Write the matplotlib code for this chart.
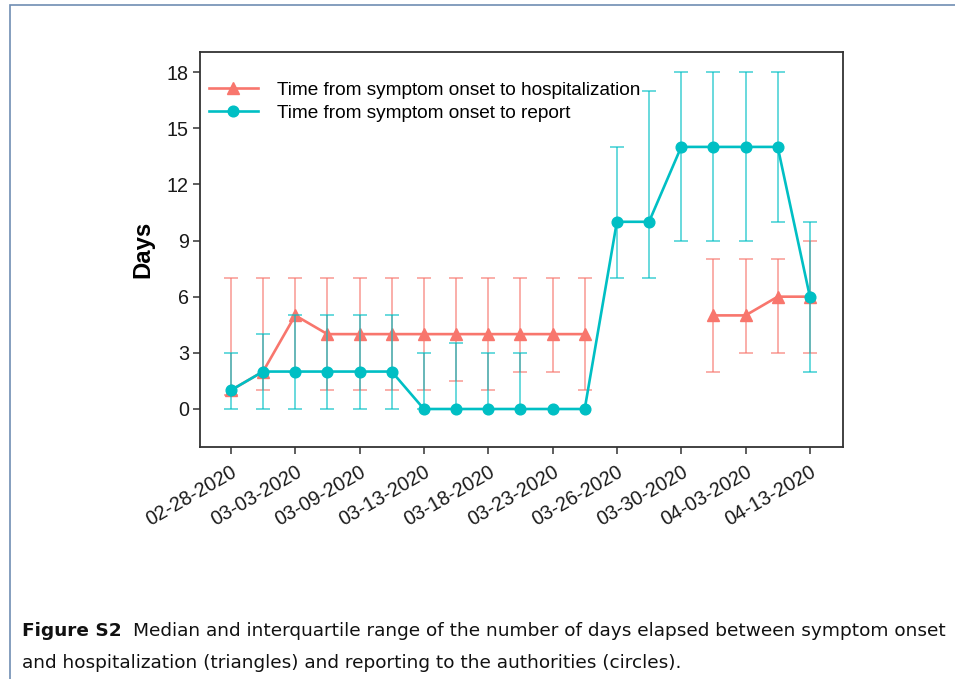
import numpy as np
import matplotlib
matplotlib.use('Agg')
import matplotlib.pyplot as plt
from matplotlib.patches import Rectangle

nan = np.nan

# one position every half step; only every other position gets a date label
tick_labels = ['02-28-2020', '03-03-2020', '03-09-2020', '03-13-2020', '03-18-2020',
               '03-23-2020', '03-26-2020', '03-30-2020', '04-03-2020', '04-13-2020']

hosp_median = [1, 2, 5, 4, 4, 4, 4, 4, 4, 4, 4, 4, nan, nan, nan, 5, 5, 6, 6]
hosp_q1 = [0.75, 1, 2, 1, 1, 1, 1, 1.5, 1, 2, 2, 1, nan, nan, nan, 2, 3, 3, 3]
hosp_q3 = [7, 7, 7, 7, 7, 7, 7, 7, 7, 7, 7, 7, nan, nan, nan, 8, 8, 8, 9]

report_median = [1, 2, 2, 2, 2, 2, 0, 0, 0, 0, 0, 0, 10, 10, 14, 14, 14, 14, 6]
report_q1 = [0, 0, 0, 0, 0, 0, 0, 0, 0, 0, nan, nan, 7, 7, 9, 9, 9, 10, 2]
report_q3 = [3, 4, 5, 5, 5, 5, 3, 3.5, 3, 3, nan, nan, 14, 17, 18, 18, 18, 18, 10]

caption_head = 'Figure S2'
caption_lines = ['Median and interquartile range of the number of days elapsed between symptom onset',
                 'and hospitalization (triangles) and reporting to the authorities (circles).']

plt.rcParams['font.family'] = ['Liberation Sans', 'DejaVu Sans']

W, H = 955, 679
fig = plt.figure(figsize=(W / 100, H / 100), dpi=100)
ax = fig.add_axes([200 / W, 1 - 447 / H, 643 / W, 395 / H])

RED = '#F8766D'
TEAL = '#00BFC4'
x = np.arange(len(report_median))


def draw_series(med, lo, hi, color, marker, ms, label):
    med, lo, hi = np.array(med), np.array(lo), np.array(hi)
    ax.errorbar(x, med, yerr=[med - lo, hi - med], fmt='none', ecolor=color,
                elinewidth=1.1, capsize=4.7, capthick=1.1, alpha=0.75)
    ax.plot(x, med, color=color, lw=1.9, marker=marker, ms=ms, label=label)


draw_series(hosp_median, hosp_q1, hosp_q3, RED, '^', 9,
            'Time from symptom onset to hospitalization')
draw_series(report_median, report_q1, report_q3, TEAL, 'o', 7.7,
            'Time from symptom onset to report')

ax.set_xlim(-0.96, 19.03)
ax.set_ylim(-2.03, 19.07)
ax.set_yticks(range(0, 19, 3))
ax.set_xticks(x[::2])
ax.set_xticklabels(tick_labels, rotation=30, ha='right', rotation_mode='anchor')

for side in ax.spines.values():
    side.set_color('#333333')
    side.set_linewidth(1.3)
ax.tick_params(length=5, width=1.1, color='#333333', labelsize=14.2,
               labelcolor='#1a1a1a')
ax.tick_params(axis='y', pad=3)
ax.tick_params(axis='x', pad=6)
ax.set_ylabel('Days', fontsize=17.2, fontweight='bold', labelpad=9)

ax.legend(loc='upper left', bbox_to_anchor=(0.014, 0.925), frameon=False,
          fontsize=13.7, handlelength=2.56, handletextpad=1.0,
          borderpad=0, borderaxespad=0, labelspacing=0.3)

# page frame and caption below the chart
fig.patches.append(Rectangle((10 / W, -0.1), 1.2, (H - 5.5) / H + 0.1, fill=False,
                             edgecolor='#6f8db3', lw=1.2, transform=fig.transFigure))

cap_kw = dict(family='DejaVu Sans', va='baseline', color='#111111', fontsize=13)
head = fig.text(22 / W, 1 - 636 / H, caption_head, fontweight='bold', **cap_kw)
line1 = fig.text(133 / W, 1 - 636 / H, caption_lines[0], **cap_kw)
line2 = fig.text(22 / W, 1 - 668 / H, caption_lines[1], **cap_kw)

# scale the caption so the first line runs out to the right margin
renderer = fig.canvas.get_renderer()
scale = (945 - 133) / line1.get_window_extent(renderer).width
for t in (head, line1, line2):
    t.set_fontsize(13 * scale)

fig.savefig('out.png', dpi=100)
